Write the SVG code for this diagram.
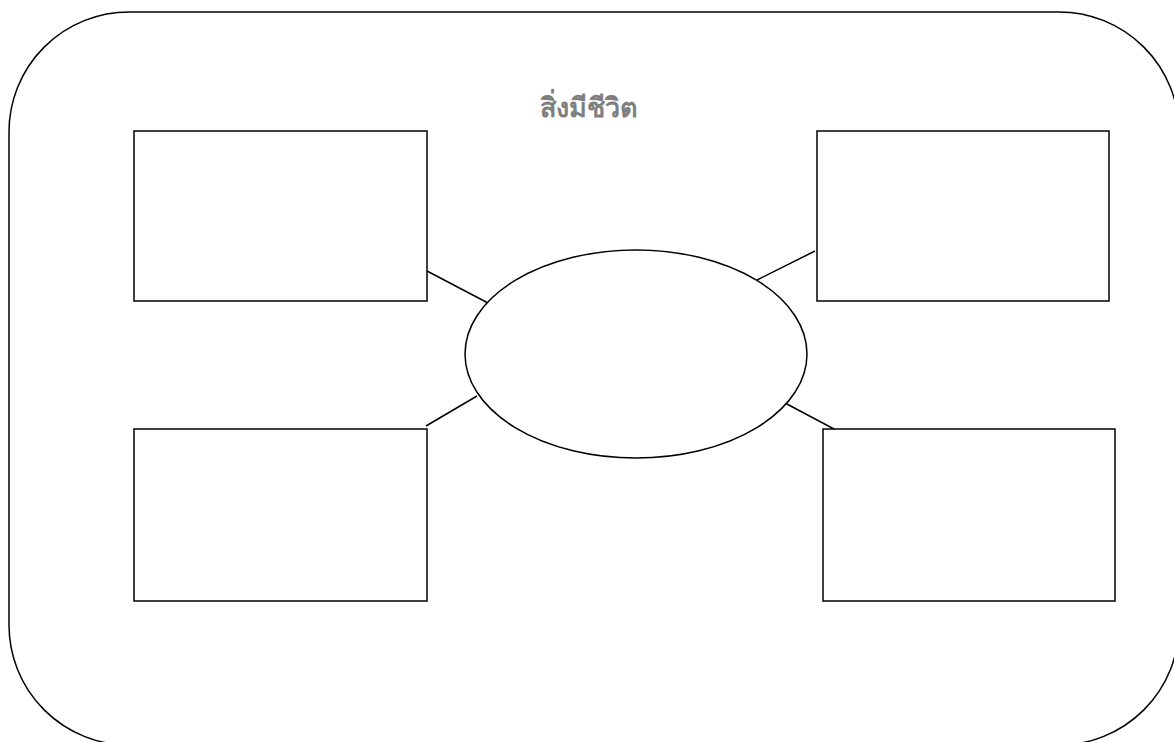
<svg xmlns="http://www.w3.org/2000/svg" width="1174" height="742" viewBox="0 0 1174 742">
<style>
.shape{fill:#fff;stroke:#000;stroke-width:1.5}
.conn line{stroke:#000;stroke-width:1.5}
.title{font-family:"Liberation Sans","Noto Sans",sans-serif;font-size:27px;font-weight:bold;fill:#7f7f7f}
</style>
<rect x="0" y="0" width="1174" height="742" fill="#fff"/>
<g id="frame"><rect class="shape" x="9" y="12" width="1170" height="733" rx="120" ry="120"/></g>
<g id="title"><text class="title" x="589" y="117" text-anchor="middle">สิ่งมีชีวิต</text></g>
<g id="box-tl"><rect class="shape" x="134" y="131" width="293" height="170"/></g>
<g id="box-tr"><rect class="shape" x="817" y="131" width="292" height="170"/></g>
<g id="box-bl"><rect class="shape" x="134" y="429" width="293" height="172"/></g>
<g id="box-br"><rect class="shape" x="823" y="429" width="292" height="172"/></g>
<g class="conn" id="connectors">
<line x1="427" y1="271" x2="488" y2="303"/>
<line x1="426" y1="426" x2="477" y2="396"/>
<line x1="815" y1="251" x2="757" y2="280"/>
<line x1="785" y1="403" x2="834" y2="429"/>
</g>
<g id="center"><ellipse class="shape" cx="636" cy="354" rx="171" ry="104"/></g>
</svg>
